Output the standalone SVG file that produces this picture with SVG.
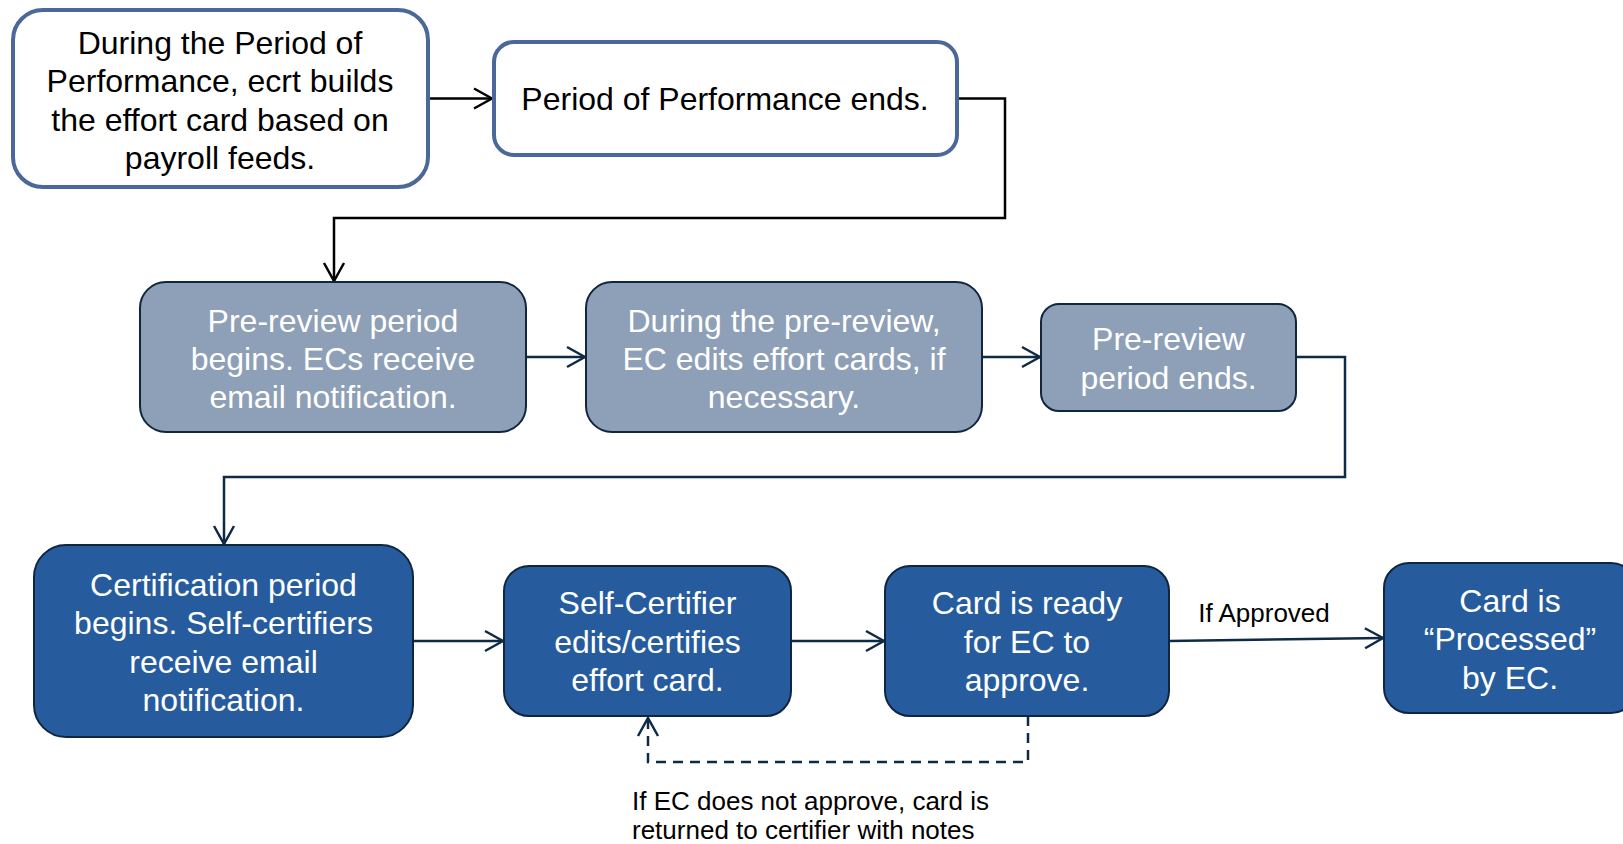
<svg xmlns="http://www.w3.org/2000/svg" width="1623" height="844" viewBox="0 0 1623 844">
  <style>
    .t { font-family: "Liberation Sans", Arial, sans-serif; font-size: 32px; text-anchor: middle; }
    .dark { fill: #000000; }
    .light { fill: #ffffff; }
    .lbl { font-family: "Liberation Sans", Arial, sans-serif; font-size: 26px; fill: #000000; }
    .n1 { fill: #ffffff; stroke: #4a6899; stroke-width: 4; }
    .n2 { fill: #8ea0b7; stroke: #10263f; stroke-width: 2; }
    .n3 { fill: #265c9e; stroke: #10263f; stroke-width: 2; }
    .cb { fill: none; stroke: #000000; stroke-width: 2.5; }
    .cn { fill: none; stroke: #0f2a45; stroke-width: 2.5; }
    .dash { stroke-dasharray: 10 7; }
  </style>
  <defs>
    <marker id="ab" viewBox="-20 -12 22 24" markerWidth="22" markerHeight="24" refX="0" refY="0" orient="auto" markerUnits="userSpaceOnUse">
      <path d="M-18,-10 L0,0 L-18,10" fill="none" stroke="#000000" stroke-width="2.5"/>
    </marker>
    <marker id="an" viewBox="-20 -12 22 24" markerWidth="22" markerHeight="24" refX="0" refY="0" orient="auto" markerUnits="userSpaceOnUse">
      <path d="M-18,-10 L0,0 L-18,10" fill="none" stroke="#0f2a45" stroke-width="2.5"/>
    </marker>
  </defs>
  <rect width="1623" height="844" fill="#ffffff"/>

  <g id="connectors">
    <path class="cb" d="M429,98.5 H492" marker-end="url(#ab)"/>
    <path class="cb" d="M957,98.5 H1005 V218 H334 V281" marker-end="url(#ab)"/>
    <path class="cn" d="M526,357 H585" marker-end="url(#an)"/>
    <path class="cn" d="M982,357 H1040" marker-end="url(#an)"/>
    <path class="cn" d="M1296,357 H1345 V477 H224 V544" marker-end="url(#an)"/>
    <path class="cn" d="M413,641 H503" marker-end="url(#an)"/>
    <path class="cn" d="M791,641 H884" marker-end="url(#an)"/>
    <path class="cn" d="M1169,641 L1383,638" marker-end="url(#an)"/>
    <path class="cn dash" d="M1028,716 V762 H648 V718" marker-end="url(#an)"/>
    <text class="lbl" x="1264" y="621.5" text-anchor="middle">If Approved</text>
    <text class="lbl" x="632" y="810">If EC does not approve, card is</text>
    <text class="lbl" x="632" y="838.5">returned to certifier with notes</text>
  </g>

  <g id="node1">
    <rect class="n1" x="13" y="10" width="415" height="177" rx="30" ry="30"/>
    <text class="t dark" x="220" y="53.5">During the Period of</text>
    <text class="t dark" x="220" y="92">Performance, ecrt builds</text>
    <text class="t dark" x="220" y="130.5">the effort card based on</text>
    <text class="t dark" x="220" y="169">payroll feeds.</text>
  </g>
  <g id="node2">
    <rect class="n1" x="494" y="42" width="463" height="113" rx="20" ry="20"/>
    <text class="t dark" x="725" y="110">Period of Performance ends.</text>
  </g>

  <g id="node3">
    <rect class="n2" x="140" y="282" width="386" height="150" rx="26" ry="26"/>
    <text class="t light" x="333" y="331.5">Pre-review period</text>
    <text class="t light" x="333" y="370">begins. ECs receive</text>
    <text class="t light" x="333" y="408">email notification.</text>
  </g>
  <g id="node4">
    <rect class="n2" x="586" y="282" width="396" height="150" rx="26" ry="26"/>
    <text class="t light" x="784" y="331.5">During the pre-review,</text>
    <text class="t light" x="784" y="370">EC edits effort cards, if</text>
    <text class="t light" x="784" y="408">necessary.</text>
  </g>
  <g id="node5">
    <rect class="n2" x="1041" y="304" width="255" height="107" rx="18" ry="18"/>
    <text class="t light" x="1168.5" y="350">Pre-review</text>
    <text class="t light" x="1168.5" y="388.5">period ends.</text>
  </g>

  <g id="node6">
    <rect class="n3" x="34" y="545" width="379" height="192" rx="32" ry="32"/>
    <text class="t light" x="223.5" y="595.5">Certification period</text>
    <text class="t light" x="223.5" y="634">begins. Self-certifiers</text>
    <text class="t light" x="223.5" y="672.5">receive email</text>
    <text class="t light" x="223.5" y="711">notification.</text>
  </g>
  <g id="node7">
    <rect class="n3" x="504" y="566" width="287" height="150" rx="25" ry="25"/>
    <text class="t light" x="647.5" y="614">Self-Certifier</text>
    <text class="t light" x="647.5" y="652.5">edits/certifies</text>
    <text class="t light" x="647.5" y="690.5">effort card.</text>
  </g>
  <g id="node8">
    <rect class="n3" x="885" y="566" width="284" height="150" rx="25" ry="25"/>
    <text class="t light" x="1027" y="614">Card is ready</text>
    <text class="t light" x="1027" y="652.5">for EC to</text>
    <text class="t light" x="1027" y="690.5">approve.</text>
  </g>
  <g id="node9">
    <rect class="n3" x="1384" y="563" width="252" height="150" rx="25" ry="25"/>
    <text class="t light" x="1510" y="612">Card is</text>
    <text class="t light" x="1510" y="650">“Processed”</text>
    <text class="t light" x="1510" y="688.5">by EC.</text>
  </g>
</svg>
